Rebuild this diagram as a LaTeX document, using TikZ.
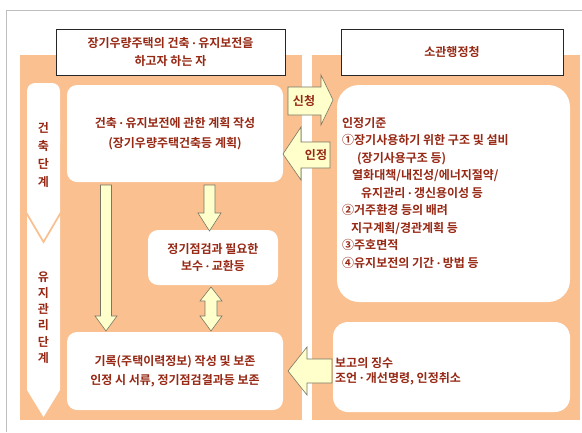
\documentclass[tikz,border=0pt]{standalone}
\usepackage{fontspec}
\setmainfont{Noto Sans CJK KR Bold}
\newfontfamily\latinfont{Noto Sans}[FakeBold=2.5]
\newcommand\mdot{{\latinfont ·}}
\definecolor{panel}{RGB}{250,192,144}
\definecolor{txt}{RGB}{150,40,20}
\definecolor{arrowfill}{RGB}{255,255,204}
\definecolor{arrowline}{RGB}{120,120,100}
\definecolor{framegray}{RGB}{190,190,190}
\begin{document}
\begin{tikzpicture}[x=1pt,y=-1pt,
  every node/.style={text=txt,inner sep=0pt},
  lbl/.style={font=\fontsize{12}{#1}\selectfont},
  lbl/.default=18,
  titlebox/.style={draw=black!85,fill=white,line width=0.8pt,align=center},
  whitebox/.style={fill=white,rounded corners=10pt,align=center},
  barrow/.style={fill=arrowfill,draw=arrowline,line width=0.6pt,line join=miter},
]
\useasboundingbox (0,0) rectangle (582,432);
\fill[white] (0,0) rectangle (582,432);
\draw[framegray,line width=1pt] (6,432) -- (6,10) -- (582,10);

% panels
\fill[panel] (20,55) rectangle (302,420);
\fill[panel] (312,55) rectangle (580,420);

% titles
\node[titlebox,lbl=18,minimum width=229,minimum height=46] (tl) at (170.5,52) {장기우량주택의 건축 \mdot{} 유지보전을\\하고자 하는 자};
\node[titlebox,lbl,minimum width=222,minimum height=46] (tr) at (452,52) {소관행정청};

% stage arrows
\fill[white,rounded corners=8] (27,83) rectangle (60,150);
\fill[white] (27,120) -- (60,120) -- (60,212) -- (43.5,240) -- (27,212) -- cycle;
\fill[white] (27,216) -- (43.5,244) -- (60,216) -- (60,390) -- (43.5,417) -- (27,390) -- cycle;
\node[lbl=18,align=center] (s1) at (43.5,154.5) {건\\축\\단\\계};
\node[lbl=16.2,align=center] (s2) at (43.5,317.5) {유\\지\\관\\리\\단\\계};

% left boxes
\node[whitebox,lbl=20,minimum width=216,minimum height=97] (plan) at (175,133.5) {건축 \mdot{} 유지보전에 관한 계획 작성\\(장기우량주택건축등 계획)};
\node[whitebox,lbl=17,minimum width=130,minimum height=55] (maint) at (213,257.5) {정기점검과 필요한\\보수 \mdot{} 교환등};
\node[whitebox,lbl=19,minimum width=216,minimum height=78] (record) at (175,371) {기록(주택이력정보) 작성 및 보존\\인정 시 서류, 정기점검결과등 보존};

% right boxes
\node[fill=white,rounded corners=22pt,minimum width=233,minimum height=217] (crit) at (453.5,193.5) {};
\node[lbl=17.5,align=left,anchor=west] (crittext) at (342,193) {인정기준\\①장기사용하기 위한 구조 및 설비\\\hspace*{15pt}(장기사용구조 등)\\\hspace*{10pt}열화대책/내진성/에너지절약/\\\hspace*{19pt}유지관리 \mdot{} 갱신용이성 등\\②거주환경 등의 배려\\\hspace*{9pt}지구계획/경관계획 등\\③주호면적\\④유지보전의 기간 \mdot{} 방법 등};
\node[fill=white,rounded corners=15pt,minimum width=237,minimum height=90] (report) at (451.5,367) {};
\node[lbl=14.5,align=left,anchor=west] (reporttext) at (335,371) {보고의 징수\\조언 \mdot{} 개선명령, 인정취소};

% vertical arrows
\draw[barrow] (100.5,185) -- (111.5,185) -- (111.5,316) -- (117,316) -- (106,331) -- (95,316) -- (100.5,316) -- cycle;
\draw[barrow] (204,185) -- (215,185) -- (215,213) -- (221,213) -- (209.5,231) -- (198,213) -- (204,213) -- cycle;
\draw[barrow] (211,287) -- (222,301) -- (217,301) -- (217,316) -- (222,316) -- (211,331) -- (200,316) -- (205,316) -- (205,301) -- (200,301) -- cycle;

% horizontal arrows
\draw[barrow] (288,87) -- (321,87) -- (321,75) -- (333,100) -- (321,125) -- (321,115) -- (288,115) -- cycle;
\node[lbl] (apply) at (304,101) {신청};
\draw[barrow] (330,142) -- (301,142) -- (301,127) -- (283,154) -- (301,180) -- (301,168) -- (330,168) -- cycle;
\node[lbl] (approve) at (316,155) {인정};
\draw[barrow] (332,359) -- (307,359) -- (307,347) -- (288,371) -- (307,395) -- (307,383) -- (332,383) -- cycle;
\end{tikzpicture}
\end{document}
